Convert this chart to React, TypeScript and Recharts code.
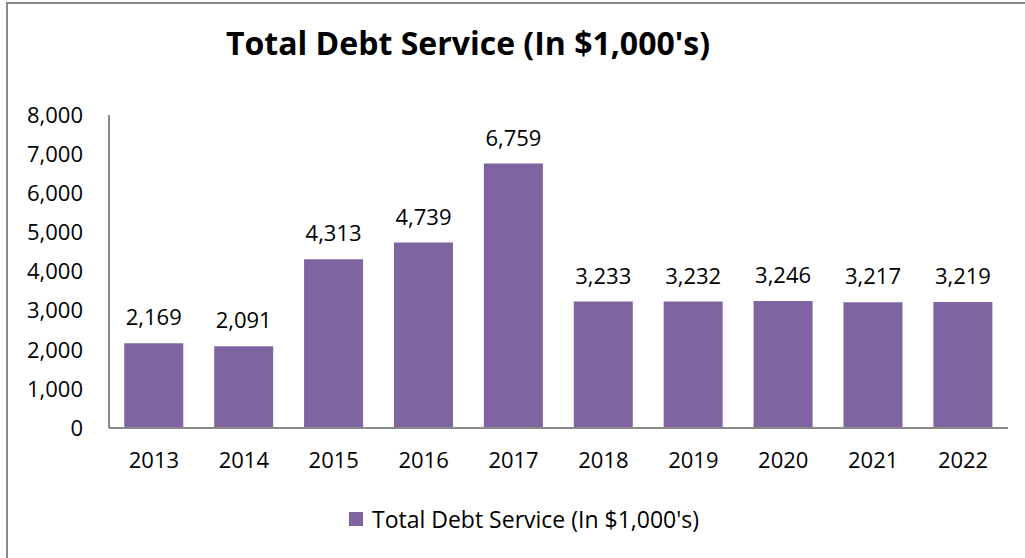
import React from "react";
import { BarChart, Bar, XAxis, YAxis, LabelList } from "recharts";

const years = ["2013", "2014", "2015", "2016", "2017", "2018", "2019", "2020", "2021", "2022"];
const debtService = [2169, 2091, 4313, 4739, 6759, 3233, 3232, 3246, 3217, 3219];
const yTicks = [0, 1000, 2000, 3000, 4000, 5000, 6000, 7000, 8000];
const seriesName = "Total Debt Service (In $1,000's)";
const titleText = "Total Debt Service (In $1,000's)";

const data = years.map((y, i) => ({ year: y, value: debtService[i] }));

const FONT = "'Open Sans', 'Noto Sans', sans-serif";
const PURPLE = "#8064A2";
const fmt = (v: number) => v.toLocaleString("en-US");

export default function App() {
  return (
    <div style={{ position: "fixed", left: 0, top: 0, width: 1025, height: 558, overflow: "hidden", background: "#fff" }}>
      <div
        style={{
          position: "absolute",
          left: 0,
          width: 936,
          top: 18,
          textAlign: "center",
          fontFamily: FONT,
          fontWeight: 700,
          fontSize: 32,
          lineHeight: "50px",
          color: "#000",
        }}
      >
        {titleText}
      </div>
      <div style={{ position: "absolute", left: 0, top: 0 }}>
        <BarChart
          width={1025}
          height={558}
          data={data}
          margin={{ top: 115, right: 17, bottom: 100, left: 0 }}
          barCategoryGap="17%"
        >
          <YAxis
            width={109}
            domain={[0, 8000]}
            ticks={yTicks}
            tickFormatter={fmt}
            axisLine={{ stroke: "#898989", strokeWidth: 2 }}
            tickLine={false}
            tickSize={0}
            tickMargin={26}
            tick={{ fill: "#000", fontSize: 22, fontFamily: FONT }}
            interval={0}
          />
          <XAxis
            dataKey="year"
            height={30}
            axisLine={{ stroke: "#898989", strokeWidth: 2 }}
            tickLine={false}
            tickSize={0}
            tickMargin={24}
            tick={{ fill: "#000", fontSize: 22, fontFamily: FONT }}
            interval={0}
          />
          <Bar dataKey="value" name={seriesName} fill={PURPLE} isAnimationActive={false}>
            <LabelList
              dataKey="value"
              position="top"
              offset={18}
              formatter={(v: any) => fmt(Number(v))}
              style={{ fill: "#000", fontSize: 22, fontFamily: FONT }}
            />
          </Bar>
        </BarChart>
      </div>
      <div
        style={{
          position: "absolute",
          left: 349,
          top: 503,
          display: "flex",
          alignItems: "center",
          fontFamily: FONT,
          fontSize: 23,
          lineHeight: "32px",
          color: "#000",
          whiteSpace: "nowrap",
        }}
      >
        <span style={{ display: "inline-block", width: 14, height: 14, background: PURPLE, marginRight: 9 }} />
        <span>{seriesName}</span>
      </div>
      <svg
        width={1025}
        height={558}
        style={{ position: "absolute", left: 0, top: 0, pointerEvents: "none" }}
      >
        <path d="M7 600 V3 H1100" fill="none" stroke="#898989" strokeWidth={2} />
      </svg>
    </div>
  );
}
